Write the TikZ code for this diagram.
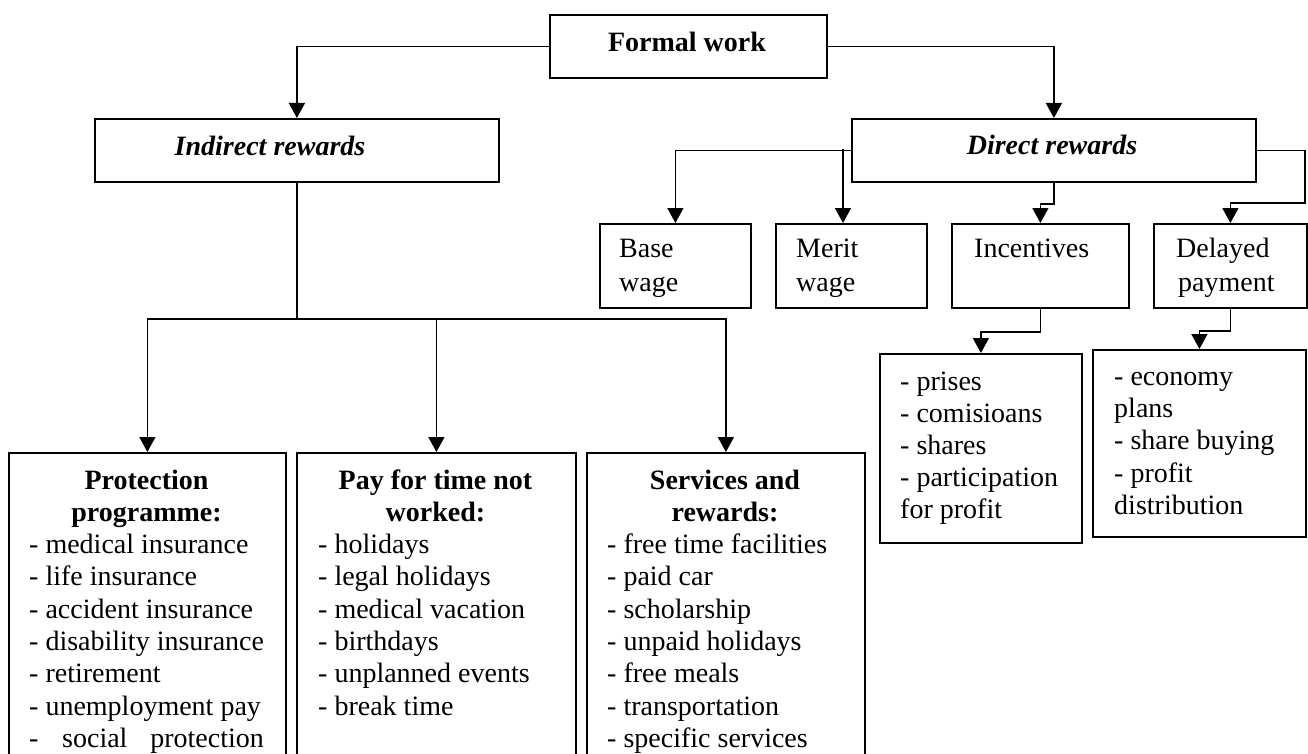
\documentclass[tikz,border=0pt]{standalone}
\usepackage{fontspec}
\setmainfont{Liberation Serif}
\usetikzlibrary{arrows.meta}
\tikzset{
  box/.style={draw, line width=1.8pt, inner sep=0pt, anchor=north west},
  txt/.style={inner sep=0pt, font=\fontsize{28}{32}\selectfont},
  btxt/.style={inner sep=0pt, font=\fontsize{28}{32}\selectfont\bfseries},
  bitxt/.style={inner sep=0pt, font=\fontsize{28}{32}\selectfont\bfseries\itshape},
  conn/.style={draw, line width=1.6pt},
  arr/.style={conn, -{Triangle[width=16pt,length=15pt]}}
}
\begin{document}
\begin{tikzpicture}[x=1pt,y=-1pt]
\useasboundingbox (0,0) rectangle (1308,754);
\fill[white] (0,0) rectangle (1308,754);
\clip (0,0) rectangle (1308,754);

% boxes
\node[box, minimum width=277pt, minimum height=63pt] (formal) at (549,14) {};
\node[box, minimum width=404pt, minimum height=63pt] (indirect) at (94,118) {};
\node[box, minimum width=404pt, minimum height=63pt] (direct) at (851,118) {};
\node[box, minimum width=151pt, minimum height=84pt] (base) at (599,223) {};
\node[box, minimum width=151pt, minimum height=84pt] (merit) at (775,223) {};
\node[box, minimum width=177pt, minimum height=84pt] (incent) at (951,223) {};
\node[box, minimum width=153pt, minimum height=84pt] (delayed) at (1153,223) {};
\node[box, minimum width=202pt, minimum height=189pt] (prises) at (879,353) {};
\node[box, minimum width=213pt, minimum height=187pt] (economy) at (1092,349) {};
\node[box, minimum width=277pt, minimum height=330pt] (prot) at (8,452) {};
\node[box, minimum width=279pt, minimum height=330pt] (pay) at (296,452) {};
\node[box, minimum width=278pt, minimum height=330pt] (serv) at (586,452) {};

% box titles
\node[btxt, anchor=base] (formal-t) at (687,52) {Formal work};
\node[bitxt, anchor=base] (indirect-t) at (270,156) {Indirect rewards};
\node[bitxt, anchor=base] (direct-t) at (1052,155) {Direct rewards};

\node[txt, anchor=base west] (base-t1) at (619,257) {Base};
\node[txt, anchor=base west] (base-t2) at (619,291) {wage};
\node[txt, anchor=base west] (merit-t1) at (796,257) {Merit};
\node[txt, anchor=base west] (merit-t2) at (796,291) {wage};
\node[txt, anchor=base west] (incent-t1) at (974,257) {Incentives};
\node[txt, anchor=base west] (delayed-t1) at (1176,257) {Delayed};
\node[txt, anchor=base west] (delayed-t2) at (1178,291) {payment};

% prises box
\foreach \t [count=\i] in {- prises, - comisioans, - shares, - participation, for profit}
  \node[txt, anchor=base west] (prises\i) at (900,{390+(\i-1)*32.2}) {\t};

% economy box
\foreach \t [count=\i] in {- economy, plans, - share buying, - profit, distribution}
  \node[txt, anchor=base west] (eco\i) at (1114,{385+(\i-1)*32.4}) {\t};

% protection programme
\node[btxt, anchor=base] (prot-t1) at (146.5,489) {Protection};
\node[btxt, anchor=base] (prot-t2) at (146.5,521) {programme:};
\foreach \t [count=\i] in {- medical insurance, - life insurance, - accident insurance, - disability insurance, - retirement, - unemployment pay}
  \node[txt, anchor=base west] (prot\i) at (29,{553.5+(\i-1)*32.3}) {\t};
\node[txt, anchor=base west] (prot7a) at (29,747.3) {-};
\node[txt, anchor=base west] (prot7b) at (62,747.3) {social};
\node[txt, anchor=base east] (prot7c) at (264,747.3) {protection};

% pay for time not worked
\node[btxt, anchor=base] (pay-t1) at (435.5,489) {Pay for time not};
\node[btxt, anchor=base] (pay-t2) at (435.5,521) {worked:};
\foreach \t [count=\i] in {- holidays, - legal holidays, - medical vacation, - birthdays, - unplanned events, - break time}
  \node[txt, anchor=base west] (pay\i) at (318,{553.5+(\i-1)*32.3}) {\t};

% services and rewards
\node[btxt, anchor=base] (serv-t1) at (725,489) {Services and};
\node[btxt, anchor=base] (serv-t2) at (725,521) {rewards:};
\foreach \t [count=\i] in {- free time facilities, - paid car, - scholarship, - unpaid holidays, - free meals, - transportation, - specific services}
  \node[txt, anchor=base west] (serv\i) at (607,{553.5+(\i-1)*32.3}) {\t};

% connectors
\draw[arr] (formal.west) -| (indirect.north);
\draw[arr] (formal.east) -| (direct.north);
\draw[arr] (direct.west) -| (base.north);
\coordinate (mj) at (843,149.5);
\draw[arr] (mj) -- (mj |- merit.north);
\draw[arr] (direct.south) -- ++(0,21) -| (incent.north);
\draw[arr] (direct.east) -- ++(48,0) -- ++(0,52.5) -| (delayed.north);
\draw[arr] (incent.south) -- ++(0,23) -| (prises.north);
\draw[arr] (delayed.south) -- ++(0,22) -| (economy.north);
\coordinate (hub) at ([yshift=-136pt]indirect.south);
\draw[conn] (indirect.south) -- (hub);
\draw[arr] (hub) -| (prot.north);
\draw[arr] (hub) -| (pay.north);
\draw[arr] (hub) -| (serv.north);
\end{tikzpicture}
\end{document}
